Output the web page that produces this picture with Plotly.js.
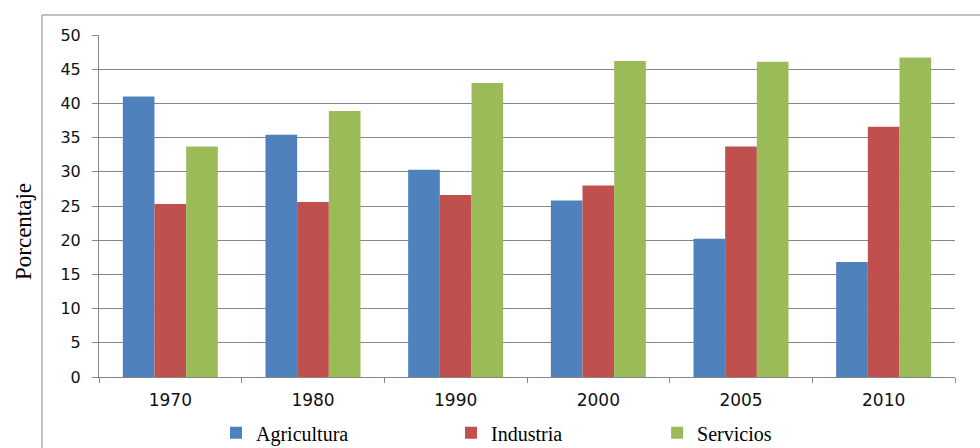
<!DOCTYPE html>
<html>
<head>
<meta charset="utf-8">
<script src="https://cdn.plot.ly/plotly-3.0.1.min.js"></script>
<style>
  html, body { margin: 0; padding: 0; background: #ffffff; }
  #chart { width: 980px; height: 448px; }
</style>
</head>
<body>
<div id="chart"></div>
<script>
// Años de referencia
const years = ['1970', '1980', '1990', '2000', '2005', '2010'];

// Participación por sector (%)
const agricultura = [41.0, 35.4, 30.3, 25.8, 20.2, 16.8];
const industria   = [25.3, 25.6, 26.6, 28.0, 33.7, 36.6];
const servicios   = [33.7, 38.9, 43.0, 46.2, 46.1, 46.7];

const seriesNames = ['Agricultura', 'Industria', 'Servicios'];
const seriesColors = ['#4F81BD', '#C0504D', '#9BBB59'];

const gridGray = '#868686';
const serif = '"Liberation Serif", "Times New Roman", serif';
const sans = '"DejaVu Sans", Verdana, sans-serif';

const values = [agricultura, industria, servicios];
const legendIds = ['legend', 'legend2', 'legend3'];

const traces = values.map((v, i) => ({
  type: 'bar',
  name: seriesNames[i],
  x: years,
  y: v,
  marker: { color: seriesColors[i], line: { width: 0 } },
  legend: legendIds[i],
  hoverinfo: 'x+y+name'
}));

const legendBase = {
  orientation: 'h',
  yanchor: 'middle',
  y: -0.163,
  xanchor: 'left',
  bgcolor: 'rgba(0,0,0,0)',
  borderwidth: 0,
  font: { family: serif, size: 20, color: '#000000' },
  itemclick: false,
  itemdoubleclick: false
};

const layout = {
  width: 980,
  height: 448,
  margin: { l: 99, r: 25, t: 35, b: 71, autoexpand: false },
  paper_bgcolor: '#ffffff',
  plot_bgcolor: '#ffffff',
  barmode: 'group',
  bargap: 0.334,
  bargroupgap: 0,
  showlegend: true,
  legend:  Object.assign({}, legendBase, { x: 0.1367 }),
  legend2: Object.assign({}, legendBase, { x: 0.4112 }),
  legend3: Object.assign({}, legendBase, { x: 0.652 }),
  xaxis: {
    type: 'category',
    showgrid: false,
    zeroline: false,
    showline: true,
    linecolor: gridGray,
    linewidth: 1,
    ticks: 'outside',
    tickson: 'boundaries',
    ticklen: 5,
    tickcolor: gridGray,
    ticklabelstandoff: 8,
    tickfont: { family: sans, size: 17, color: '#111111' },
    fixedrange: true
  },
  yaxis: {
    range: [0, 50],
    dtick: 5,
    tick0: 0,
    showgrid: true,
    gridcolor: gridGray,
    gridwidth: 1,
    zeroline: false,
    showline: true,
    linecolor: gridGray,
    linewidth: 1,
    ticks: 'outside',
    ticklen: 6,
    tickcolor: gridGray,
    ticklabelstandoff: 8,
    tickfont: { family: sans, size: 16, color: '#111111' },
    fixedrange: true
  },
  annotations: [{
    text: 'Porcentaje',
    xref: 'paper', yref: 'paper',
    x: -0.0876, y: 0.424,
    xanchor: 'center', yanchor: 'middle',
    textangle: -90,
    showarrow: false,
    font: { family: serif, size: 23, color: '#000000' }
  }],
  shapes: [
    // marco exterior del gráfico
    { type: 'line', xref: 'paper', yref: 'paper', x0: -0.0666, x1: -0.0666, y0: -0.25, y1: 1.0585,
      line: { color: gridGray, width: 1 } },
    { type: 'line', xref: 'paper', yref: 'paper', x0: -0.0666, x1: 1.1, y0: 1.0585, y1: 1.0585,
      line: { color: gridGray, width: 1 } }
  ]
};

Plotly.newPlot('chart', traces, layout, { displayModeBar: false, staticPlot: true });
</script>
</body>
</html>
